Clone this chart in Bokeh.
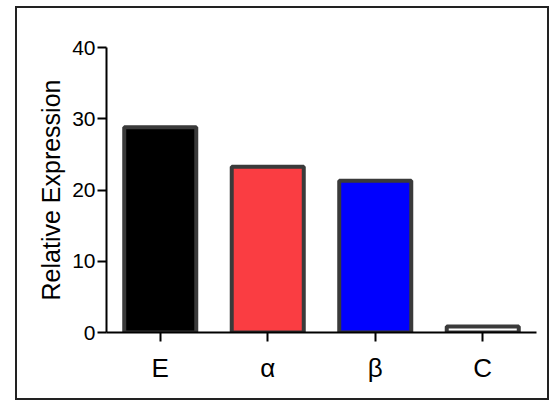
from bokeh.plotting import figure
from bokeh.models import ColumnDataSource, FactorRange, Range1d, FixedTicker
from bokeh.embed import file_html
from bokeh.resources import INLINE

categories = ["E", "α", "β", "C"]
values = [28.8, 23.25, 21.3, 0.85]
colors = ["#000000", "#fa3d42", "#0000ff", "#ffffff"]
y_ticks = [0, 10, 20, 30, 40]

src = ColumnDataSource(data=dict(cat=categories, val=values, col=colors))

W, H = 530, 390
p = figure(
    x_range=FactorRange(factors=categories, range_padding=0),
    y_range=Range1d(0, 40),
    width=W, height=H,
    output_backend="svg", toolbar_location=None,
    min_border_left=89, min_border_right=11, min_border_top=39, min_border_bottom=66,
)
p.styles = {"position": "absolute", "left": "17px", "top": "8px",
            "box-shadow": "0 0 0 2px #222222"}
p.outline_line_color = None
p.xgrid.grid_line_color = None
p.ygrid.grid_line_color = None
p.background_fill_color = "white"
p.border_fill_color = "white"

p.vbar(x="cat", top="val", bottom=0, width=0.67, source=src,
       fill_color="col", line_color="#3a3a3a", line_width=4)

for ax in (p.xaxis[0], p.yaxis[0]):
    ax.axis_line_width = 2
    ax.axis_line_color = "black"
    ax.major_tick_line_width = 2
    ax.major_tick_line_color = "black"
    ax.major_tick_in = 0
    ax.major_tick_out = 9
    ax.minor_tick_line_color = None
    ax.major_label_text_font = "Liberation Sans"
    ax.major_label_text_color = "black"
    ax.major_label_text_font_style = "normal"

p.yaxis.ticker = FixedTicker(ticks=y_ticks)
p.yaxis.major_label_text_font_size = "21px"
p.yaxis.major_label_standoff = 2
p.yaxis.axis_label = "Relative Expression"
p.yaxis.axis_label_text_font = "Liberation Sans"
p.yaxis.axis_label_text_font_size = "25px"
p.yaxis.axis_label_text_font_style = "normal"
p.yaxis.axis_label_text_color = "black"
p.yaxis.axis_label_standoff = 4

p.xaxis.major_label_text_font_size = "26px"
p.xaxis.major_label_standoff = 11

open("out.html", "w").write(file_html(p, INLINE))
